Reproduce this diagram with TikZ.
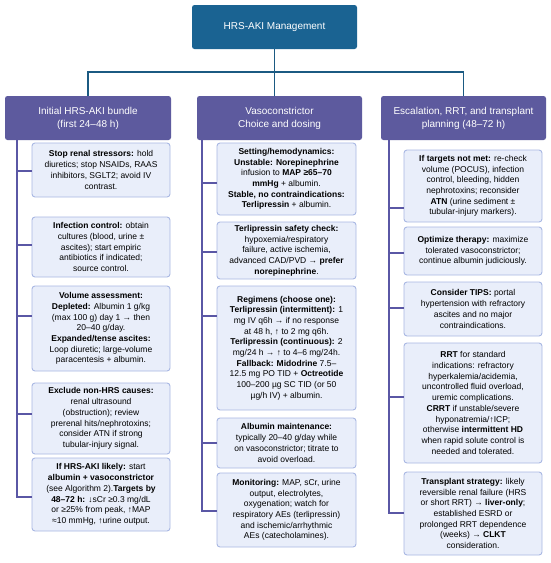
\documentclass[tikz,border=0pt]{standalone}
\usepackage{fontspec}
\setmainfont{Liberation Sans}
\definecolor{topblue}{HTML}{1A6392}
\definecolor{hdrpurple}{HTML}{5D5A9E}
\definecolor{boxfill}{HTML}{E9EEFA}
\definecolor{boxedge}{HTML}{A9B8E3}
\definecolor{spinecol}{HTML}{5A57A5}
\definecolor{toplinecol}{HTML}{1B5A82}
\begin{document}
\begin{tikzpicture}[x=1pt,y=-1pt,
  topbox/.style={fill=topblue,text=white,rounded corners=2.5pt,align=center,
    font=\fontsize{10}{12.5}\selectfont,inner sep=0pt,outer sep=0pt,anchor=north west},
  hdr/.style={fill=hdrpurple,text=white,rounded corners=2.5pt,align=center,
    font=\fontsize{10}{13}\selectfont,inner sep=0pt,outer sep=0pt,anchor=north west},
  item/.style={draw=boxedge,fill=boxfill,rounded corners=3pt,align=center,line width=0.9pt,
    font=\fontsize{8.5}{10.7}\selectfont,inner sep=0pt,outer sep=0pt,anchor=north west},
  spine/.style={draw=spinecol,line width=2pt},
  topline/.style={draw=toplinecol,line width=1.8pt},
]
\newcommand\itembox[6]{\node[item,minimum width={(#4)-(#2)},minimum height={(#5)-(#3)}] (#1) at (#2,#3) {#6};}
\useasboundingbox (0,0) rectangle (550,563);
\fill[white] (0,0) rectangle (550,563);

% top and headers
\node[topbox,minimum width=165pt,minimum height=44pt] (top) at (192,5) {HRS-AKI Management};
\node[hdr,minimum width=166pt,minimum height=44pt] (hL) at (5,96) {Initial HRS-AKI bundle\\(first 24–48 h)};
\node[hdr,minimum width=165pt,minimum height=44pt] (hM) at (197,96) {Vasoconstrictor\\Choice and dosing};
\node[hdr,minimum width=165pt,minimum height=44pt] (hR) at (381,96) {Escalation, RRT, and transplant\\planning (48–72 h)};

\coordinate (j) at (275,72);
\draw[topline] (hL.north) |- (j) -| (hR.north);
\draw[topline] (top.south) -- (top.south |- hM.north);

% left column
\itembox{l1}{32}{143}{170}{197}{\textbf{Stop renal stressors:} hold\\diuretics; stop NSAIDs, RAAS\\inhibitors, SGLT2; avoid IV\\contrast.}
\itembox{l2}{32}{217}{170}{277}{\textbf{Infection control:} obtain\\cultures (blood, urine ±\\ascites); start empiric\\antibiotics if indicated;\\source control.}
\itembox{l3}{32}{286}{170}{371}{\textbf{Volume assessment:}\\\textbf{Depleted:} Albumin 1 g/kg\\(max 100 g) day 1 → then\\20–40 g/day.\\\textbf{Expanded/tense ascites:}\\Loop diuretic; large-volume\\paracentesis + albumin.}
\itembox{l4}{32}{383}{170}{454}{\textbf{Exclude non-HRS causes:}\\renal ultrasound\\(obstruction); review\\prerenal hits/nephrotoxins;\\consider ATN if strong\\tubular-injury signal.}
\itembox{l5}{32}{458}{170}{531}{\textbf{If HRS-AKI likely:} start\\\textbf{albumin + vasoconstrictor}\\(see Algorithm 2).\textbf{Targets by}\\\textbf{48–72 h:} ↓sCr ≥0.3 mg/dL\\or ≥25\% from peak, ↑MAP\\≈10 mmHg, ↑urine output.}

\coordinate (sL) at (17,140);
\coordinate (cL1) at (17,171);
\coordinate (cL2) at (17,245);
\coordinate (cL3) at (17,316);
\coordinate (cL4) at (17,414);
\coordinate (cL5) at (17,497);
\draw[spine] (sL) |- (l5.west |- cL5);
\foreach \i in {1,2,3,4}{\draw[spine] (cL\i) -- (l\i.west |- cL\i);}

% middle column
\itembox{m1}{217}{143}{356}{215}{\textbf{Setting/hemodynamics:}\\\textbf{Unstable: Norepinephrine}\\infusion to \textbf{MAP ≥65–70}\\\textbf{mmHg} + albumin.\\\textbf{Stable, no contraindications:}\\\textbf{Terlipressin} + albumin.}
\itembox{m2}{217}{222}{356}{279}{\textbf{Terlipressin safety check:}\\hypoxemia/respiratory\\failure, active ischemia,\\advanced CAD/PVD → \textbf{prefer}\\\textbf{norepinephrine}.}
\itembox{m3}{217}{286}{356}{410}{\textbf{Regimens (choose one):}\\\textbf{Terlipressin (intermittent):} 1\\mg IV q6h → if no response\\at 48 h, ↑ to 2 mg q6h.\\\textbf{Terlipressin (continuous):} 2\\mg/24 h → ↑ to 4–6 mg/24h.\\\textbf{Fallback: Midodrine} 7.5–\\12.5 mg PO TID + \textbf{Octreotide}\\100–200 µg SC TID (or 50\\µg/h IV) + albumin.}
\itembox{m4}{217}{418}{356}{468}{\textbf{Albumin maintenance:}\\typically 20–40 g/day while\\on vasoconstrictor; titrate to\\avoid overload.}
\itembox{m5}{217}{473}{356}{547}{\textbf{Monitoring:} MAP, sCr, urine\\output, electrolytes,\\oxygenation; watch for\\respiratory AEs (terlipressin)\\and ischemic/arrhythmic\\AEs (catecholamines).}

\coordinate (sM) at (202,140);
\coordinate (cM1) at (202,183);
\coordinate (cM2) at (202,252);
\coordinate (cM3) at (202,316);
\coordinate (cM4) at (202,443);
\coordinate (cM5) at (202,511);
\draw[spine] (sM) |- (m5.west |- cM5);
\foreach \i in {1,2,3,4}{\draw[spine] (cM\i) -- (m\i.west |- cM\i);}

% right column
\itembox{r1}{404}{150}{542}{222}{\textbf{If targets not met:} re-check\\volume (POCUS), infection\\control, bleeding, hidden\\nephrotoxins; reconsider\\\textbf{ATN} (urine sediment ±\\tubular-injury markers).}
\itembox{r2}{404}{227}{542}{275}{\textbf{Optimize therapy:} maximize\\tolerated vasoconstrictor;\\continue albumin judiciously.}
\itembox{r3}{404}{282}{542}{336}{\textbf{Consider TIPS:} portal\\hypertension with refractory\\ascites and no major\\contraindications.}
\itembox{r4}{404}{343}{542}{463}{\textbf{RRT} for standard\\indications: refractory\\hyperkalemia/acidemia,\\uncontrolled fluid overload,\\uremic complications.\\\textbf{CRRT} if unstable/severe\\hyponatremia/↑ICP;\\otherwise \textbf{intermittent HD}\\when rapid solute control is\\needed and tolerated.}
\itembox{r5}{404}{472}{542}{555}{\textbf{Transplant strategy:} likely\\reversible renal failure (HRS\\or short RRT) → \textbf{liver-only};\\established ESRD or\\prolonged RRT dependence\\(weeks) → \textbf{CLKT}\\consideration.}

\coordinate (sR) at (389,140);
\coordinate (cR1) at (389,208);
\coordinate (cR2) at (389,253);
\coordinate (cR3) at (389,308);
\coordinate (cR4) at (389,397);
\coordinate (cR5) at (389,513);
\draw[spine] (sR) |- (r5.west |- cR5);
\foreach \i in {1,2,3,4}{\draw[spine] (cR\i) -- (r\i.west |- cR\i);}
\end{tikzpicture}
\end{document}
